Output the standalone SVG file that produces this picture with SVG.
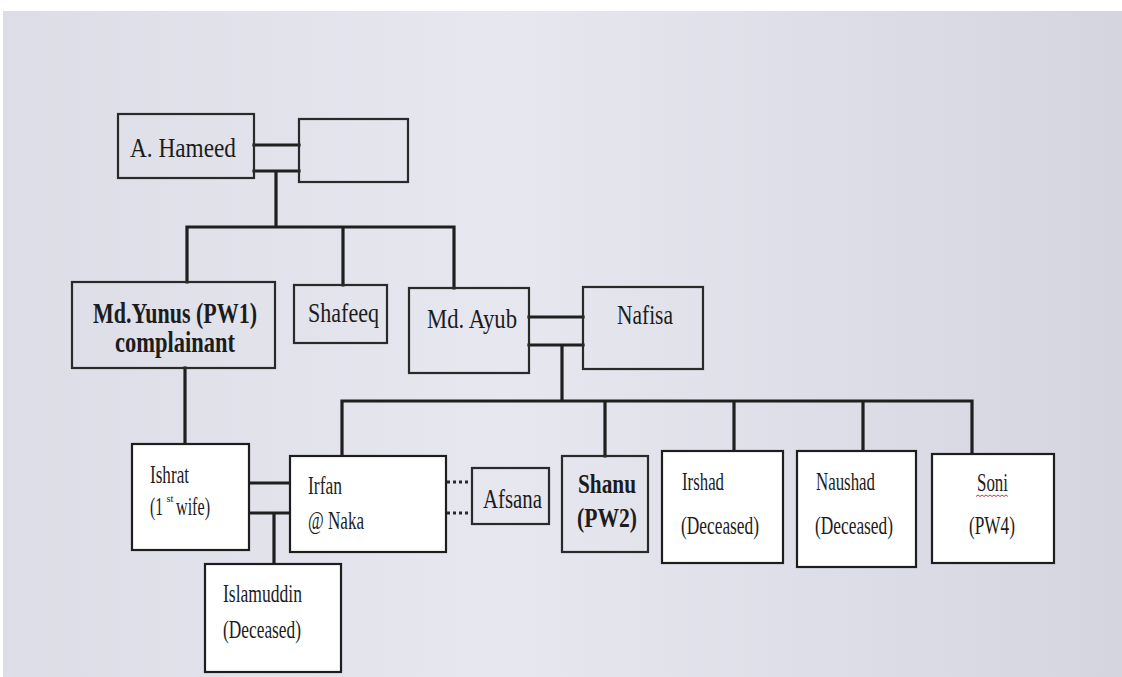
<svg xmlns="http://www.w3.org/2000/svg" width="1122" height="677" viewBox="0 0 1122 677">
<defs>
<linearGradient id="bg" x1="0" y1="0" x2="1" y2="0">
<stop offset="0" stop-color="#dcdde6"/>
<stop offset="0.45" stop-color="#e6e7ef"/>
<stop offset="1" stop-color="#d4d5df"/>
</linearGradient>
<style>
.box{fill:none;stroke:#2a2a2a;stroke-width:2.2}
.wbox{fill:#ffffff;stroke:#1e1e1e;stroke-width:2.2}
.ln{stroke:#1f1f1f;stroke-width:3.2;fill:none;stroke-linecap:square}
.dot{stroke:#2a2a2a;stroke-width:3;fill:none;stroke-dasharray:3 3}
.t{font-family:'Liberation Serif','Times New Roman',serif;fill:#1c1c1c}
.b{font-weight:bold}
</style>
</defs>
<rect x="0" y="0" width="1122" height="677" fill="#ffffff"/>
<rect x="3" y="11" width="1119" height="666" fill="url(#bg)"/>

<g id="connectors">
<path class="ln" d="M254 145H299M254 171H299M276 171V227M187 227H454M187 227V282M343 227V285M454 227V288"/>
<path class="ln" d="M185 368V444"/>
<path class="ln" d="M529 317H583M529 345H583M562 345V401M342 401H972M342 401V456M605 401V456M734 401V451M863 401V451M972 401V454"/>
<path class="ln" d="M249 483H290M249 513H290M274 513V564"/>
<path class="dot" d="M447 482H472M447 513H472"/>
</g>

<g class="t" font-family="Liberation Serif, Times New Roman, serif">
<g id="hameed">
<rect class="box" x="118" y="114" width="136" height="64"/>
<text x="130" y="157" font-size="27" textLength="106" lengthAdjust="spacingAndGlyphs">A. Hameed</text>
</g>
<g id="hameed-spouse">
<rect class="box" x="299" y="119" width="109" height="63"/>
</g>
<g id="yunus">
<rect class="box" x="72" y="282" width="203" height="86"/>
<text class="b" x="93" y="323" font-size="29" textLength="164" lengthAdjust="spacingAndGlyphs">Md.Yunus (PW1)</text>
<text class="b" x="115" y="352" font-size="29" textLength="120" lengthAdjust="spacingAndGlyphs">complainant</text>
</g>
<g id="shafeeq">
<rect class="box" x="294" y="285" width="93" height="58"/>
<text x="308" y="322" font-size="27" textLength="71" lengthAdjust="spacingAndGlyphs">Shafeeq</text>
</g>
<g id="ayub">
<rect class="box" x="409" y="288" width="120" height="85"/>
<text x="427" y="328" font-size="28" textLength="90" lengthAdjust="spacingAndGlyphs">Md. Ayub</text>
</g>
<g id="nafisa">
<rect class="box" x="583" y="287" width="120" height="82"/>
<text x="617" y="324" font-size="27" textLength="56" lengthAdjust="spacingAndGlyphs">Nafisa</text>
</g>
<g id="ishrat">
<rect class="wbox" x="132" y="444" width="117" height="106"/>
<text x="150" y="483" font-size="25" textLength="39" lengthAdjust="spacingAndGlyphs">Ishrat</text>
<text x="150" y="515" font-size="25" textLength="13" lengthAdjust="spacingAndGlyphs">(1</text>
<text x="166.5" y="502" font-size="11" textLength="7" lengthAdjust="spacingAndGlyphs">st</text>
<text x="176" y="515" font-size="25" textLength="34" lengthAdjust="spacingAndGlyphs">wife)</text>
</g>
<g id="irfan">
<rect class="wbox" x="290" y="456" width="156" height="96"/>
<text x="308" y="494" font-size="25" textLength="34" lengthAdjust="spacingAndGlyphs">Irfan</text>
<text x="308" y="529" font-size="25" textLength="56" lengthAdjust="spacingAndGlyphs">@ Naka</text>
</g>
<g id="afsana">
<rect class="box" x="472" y="468" width="77" height="56"/>
<text x="483" y="508" font-size="27" textLength="59" lengthAdjust="spacingAndGlyphs">Afsana</text>
</g>
<g id="islamuddin">
<rect class="wbox" x="205" y="564" width="136" height="108"/>
<text x="223" y="602" font-size="25" textLength="79" lengthAdjust="spacingAndGlyphs">Islamuddin</text>
<text x="223" y="638" font-size="25" textLength="78" lengthAdjust="spacingAndGlyphs">(Deceased)</text>
</g>
<g id="shanu">
<rect class="box" x="562" y="456" width="86" height="96"/>
<text class="b" x="578" y="493" font-size="27" textLength="58" lengthAdjust="spacingAndGlyphs">Shanu</text>
<text class="b" x="577" y="527" font-size="27" textLength="60" lengthAdjust="spacingAndGlyphs">(PW2)</text>
</g>
<g id="irshad">
<rect class="wbox" x="662" y="451" width="121" height="112"/>
<text x="682" y="490" font-size="25" textLength="42" lengthAdjust="spacingAndGlyphs">Irshad</text>
<text x="681" y="534" font-size="25" textLength="78" lengthAdjust="spacingAndGlyphs">(Deceased)</text>
</g>
<g id="naushad">
<rect class="wbox" x="797" y="451" width="119" height="116"/>
<text x="816" y="490" font-size="25" textLength="59" lengthAdjust="spacingAndGlyphs">Naushad</text>
<text x="815" y="534" font-size="25" textLength="78" lengthAdjust="spacingAndGlyphs">(Deceased)</text>
</g>
<g id="soni">
<rect class="wbox" x="932" y="454" width="122" height="109"/>
<text x="977" y="491" font-size="25" textLength="31" lengthAdjust="spacingAndGlyphs">Soni</text>
<polyline points="976,496.5 978,495 980,496.5 982,495 984,496.5 986,495 988,496.5 990,495 992,496.5 994,495 996,496.5 998,495 1000,496.5 1002,495 1004,496.5 1006,495 1008,496.5" fill="none" stroke="#d23a3a" stroke-width="1"/>
<text x="969" y="534" font-size="25" textLength="46" lengthAdjust="spacingAndGlyphs">(PW4)</text>
</g>
</g>
</svg>
